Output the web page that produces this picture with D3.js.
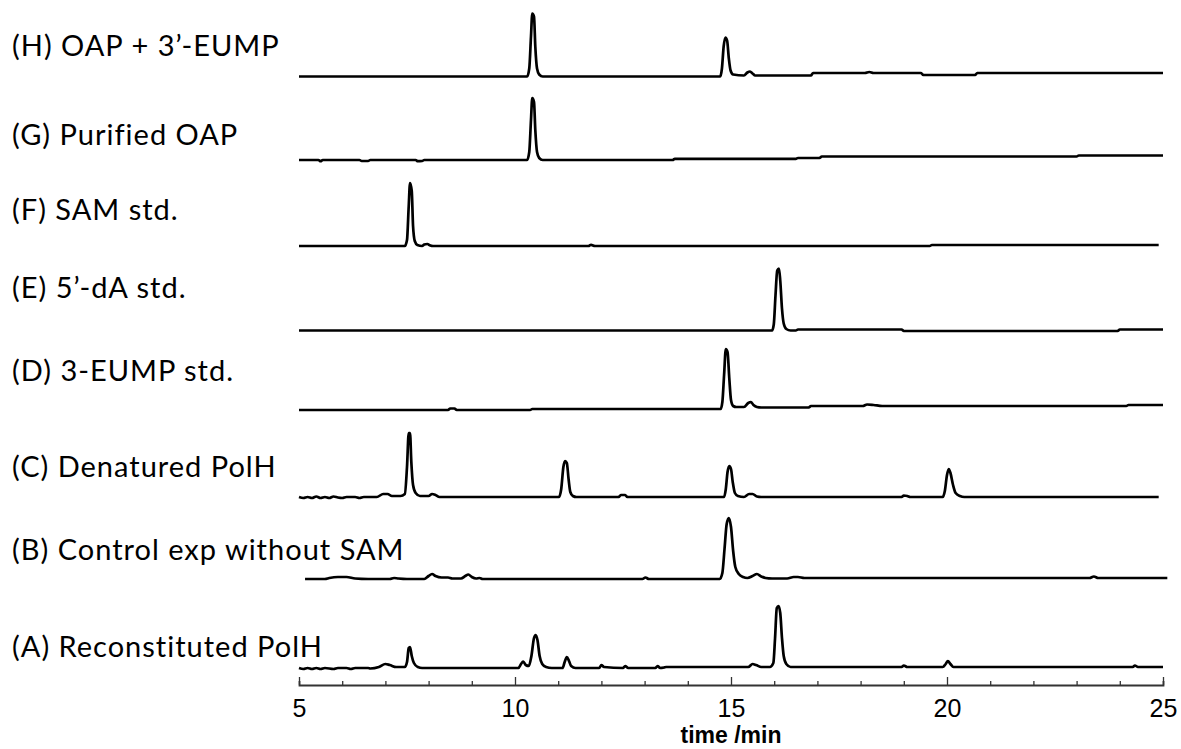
<!DOCTYPE html>
<html>
<head>
<meta charset="utf-8">
<script src="https://cdn.jsdelivr.net/npm/d3@7"></script>
<style>
  body { margin: 0; background: #fff; }
  .trace { fill: none; stroke: #000; stroke-width: 2.7; stroke-linejoin: round; }
  .label { font-family: Lato, "Open Sans", sans-serif; font-size: 29px; letter-spacing: 1px; fill: #000; }
  .tick text { font-family: "Liberation Sans", Arial, sans-serif; font-size: 25px; fill: #000; }
</style>
</head>
<body>
<div id="chart"></div>
<script>
const w = 1181;
const h = 749;

// trace names, bottom to top
const labels = ["(A) Reconstituted PolH", "(B) Control exp without SAM", "(C) Denatured PolH",
  "(D) 3-EUMP std.", "(E) 5\u2019-dA std.", "(F) SAM std.", "(G) Purified OAP", "(H) OAP + 3\u2019-EUMP"];

// vertical offset of each trace (signal units)
const offsets = [17, 106, 188, 275, 354.5, 439, 525, 608.5];

const xTicks = [5, 10, 15, 20, 25];

// [time (min), signal]
const traceA = [[5,0],[5.1,-1],[5.2,0],[5.3,-1],[5.4,0],[5.5,-1],[5.6,0],[5.8,-1],[5.9,0],[6.1,0],[6.2,-1],[6.3,0],[6.6,0],[6.65,-0.5],[6.85,1],[7.0,4],[7.1,3],[7.25,1],[7.45,1],[7.5,6],[7.54,20],[7.57,21],[7.61,12],[7.66,5],[7.75,1],[7.85,0],
  [10.08,0],[10.14,4],[10.19,6.5],[10.25,3],[10.32,2],[10.38,12],[10.44,30],[10.48,33],[10.52,28],[10.57,12],[10.63,4],[10.72,1],[10.85,0],[11.1,0],[11.15,6],[11.2,11],[11.25,7],[11.3,2],[11.4,0],
  [11.95,0],[12.0,3],[12.06,1],[12.5,0],[12.55,2],[12.62,0],[13.25,0],[13.3,2],[13.36,0],[13.45,0.5],[13.5,1],
  [15.4,1],[15.5,4],[15.58,3],[15.7,1],[15.9,1],[15.98,5],[16.02,30],[16.06,60],[16.1,62],[16.14,55],[16.18,30],[16.22,12],[16.28,4],[16.38,1],[16.5,1],
  [18.95,1],[19.0,2.5],[19.08,1],[19.9,1],[19.97,4],[20.02,7],[20.08,4],[20.15,1],[24.3,1],[24.35,2.5],[24.42,1],[25,1]];

const traceB = [[5.14,0],[5.6,0],[5.7,1],[5.9,2],[6.1,2],[6.3,0.5],[6.6,0],[7.1,0],[7.2,1],[7.3,0.5],[7.5,0],[7.9,0],[8.0,3],[8.08,5],[8.16,3],[8.3,1.5],[8.45,1.5],[8.55,0.5],[8.75,0.5],[8.85,3],[8.92,4.5],[9.0,2],[9.1,0.5],[9.18,1],[9.25,0],
  [12.95,0],[13.02,1.5],[13.1,0],
  [14.74,0],[14.8,6],[14.85,30],[14.9,55],[14.95,61],[15.0,52],[15.05,28],[15.1,12],[15.18,5],[15.28,2],[15.38,1],[15.5,3],[15.6,5],[15.7,2.5],[15.8,1],[15.95,0.5],[16.3,0.5],[16.45,2],[16.55,2],[16.7,1],[23.3,1],[23.4,2.5],[23.5,1],[25.1,1]];

const traceC = [[5,0],[5.1,-1],[5.2,0],[5.3,-1],[5.4,0.5],[5.5,-1],[5.6,0],[5.7,-1],[5.8,0.5],[5.9,-0.5],[6.0,-1],[6.1,0],[6.3,0],[6.4,-1],[6.5,0],[6.8,0],[6.95,3],[7.05,3],[7.15,1],[7.35,1],[7.45,3],[7.5,30],[7.54,64],[7.57,64],[7.6,35],[7.64,12],[7.7,4],[7.8,1],[8.0,1],[8.08,3],[8.16,2],[8.25,0],
  [11.02,0],[11.07,8],[11.12,30],[11.16,36],[11.2,34],[11.24,18],[11.28,5],[11.34,1],[11.42,0],
  [12.4,0],[12.45,2],[12.55,2],[12.6,0],
  [14.84,0],[14.88,8],[14.92,25],[14.96,31],[15.0,28],[15.04,15],[15.09,4],[15.16,1],[15.3,0],[15.42,3],[15.5,3],[15.6,0.5],[15.7,0],
  [18.95,0],[19.0,1.5],[19.08,1],[19.15,0],[19.9,0],[19.95,6],[20.0,22],[20.04,28],[20.08,24],[20.14,12],[20.2,4],[20.3,1],[20.4,0],[24.9,0]];

const traceD = [[5,0],[8.45,0],[8.5,1.5],[8.6,1.5],[8.65,0],[10.35,0],[10.4,1],
  [14.76,1],[14.8,8],[14.84,35],[14.88,61],[14.92,58],[14.96,32],[15.0,10],[15.05,4],[15.12,3],[15.3,3],[15.4,7],[15.46,8],[15.52,5],[15.6,3],[15.7,2.5],
  [16.8,2.5],[16.85,4],[18.05,4],[18.15,5.5],[18.3,5],[18.5,4],[24.15,4],[24.2,5],[25,5]];

const traceE = [[5,0],[15.95,0],[15.99,6],[16.03,35],[16.07,60],[16.11,62],[16.14,50],[16.18,22],[16.22,7],[16.28,1.5],[16.38,0],
  [16.5,0],[16.55,1],[18.95,1],[19.0,-0.5],[23.95,-0.5],[24.0,1],[25,1]];

const traceF = [[5,0],[7.45,0],[7.5,6],[7.54,40],[7.57,63],[7.61,55],[7.64,20],[7.68,5],[7.74,1],[7.85,0],[7.9,1.5],[7.97,2],[8.04,0.5],[8.1,0],
  [11.7,0],[11.76,1.2],[11.85,0],[19.6,0],[19.65,1],[24.9,1]];

const traceG = [[5,0],[5.45,0],[5.5,-1.2],[5.55,0],[6.4,0],[6.45,-1],[6.6,-1],[6.65,0],[7.7,0],[7.75,-1.2],[7.85,-1],[7.9,0],
  [10.28,0],[10.33,8],[10.37,40],[10.40,62],[10.44,58],[10.47,30],[10.51,8],[10.56,2],[10.64,0],
  [13.65,0],[13.7,1.2],[16.5,1.2],[16.55,2],[17.05,2],[17.1,3.5],[23.0,3.5],[23.05,4.5],[25,4.5]];

const traceH = [[5,0],[10.28,0],[10.33,8],[10.37,40],[10.40,63],[10.44,60],[10.47,30],[10.51,8],[10.56,2],[10.64,0],
  [14.75,0],[14.79,8],[14.83,30],[14.87,39],[14.91,36],[14.95,18],[14.99,6],[15.05,2],[15.3,1],[15.38,4],[15.44,5],[15.5,3],[15.56,1],[15.65,1],
  [16.85,1],[16.9,3.5],[18.1,3.5],[18.2,4.5],[18.3,3.5],[19.4,3.5],[19.45,1.5],[20.65,1.5],[20.7,3.5],[25,3.5]];

const traces = [traceA, traceB, traceC, traceD, traceE, traceF, traceG, traceH];

const margin = {left: 299, right: 18, bottom: 64};

const x = d3.scaleLinear().domain([5, 25]).range([margin.left, w - margin.right]);
const y = d3.scaleLinear().domain([0, h - margin.bottom]).range([h - margin.bottom, 0]);

const svg = d3.select("#chart").append("svg")
  .attr("width", w)
  .attr("height", h);

// traces
traces.forEach((tr, i) => {
  const line = d3.line()
    .x(d => x(d[0]))
    .y(d => y(d[1] + offsets[i]))
    .curve(d3.curveMonotoneX);
  svg.append("path")
    .attr("class", "trace")
    .attr("d", line(tr));
});

// labels (same order as traces)
const labelY = [657, 560, 477, 381, 298, 220, 145, 56];
svg.selectAll("text.label")
  .data(labels)
  .enter()
  .append("text")
  .attr("class", "label")
  .attr("x", 12)
  .attr("y", (d, i) => labelY[i])
  .text(d => d);

// x axis, ticks pointing up
const axisY = h - margin.bottom;
const xAxis = d3.axisBottom(x)
  .tickValues(d3.range(5, 26, 1))
  .tickSize(-4)
  .tickPadding(9)
  .tickFormat(d => xTicks.includes(d) ? d : "");

const gx = svg.append("g")
  .attr("transform", `translate(0,${axisY})`)
  .call(xAxis);
gx.select(".domain").attr("stroke", "#333").attr("stroke-width", 1.8);
gx.selectAll(".tick line").attr("stroke", "#333").attr("stroke-width", 1.3)
  .filter(d => xTicks.includes(d)).attr("y2", -8);
gx.selectAll(".tick text").attr("dy", "0.9em");

svg.append("text")
  .attr("x", (x(5) + x(25)) / 2)
  .attr("y", 743)
  .attr("text-anchor", "middle")
  .attr("font-family", "'Liberation Sans', Arial, sans-serif")
  .attr("font-weight", "bold")
  .attr("font-size", 23)
  .text("time /min");
</script>
</body>
</html>
